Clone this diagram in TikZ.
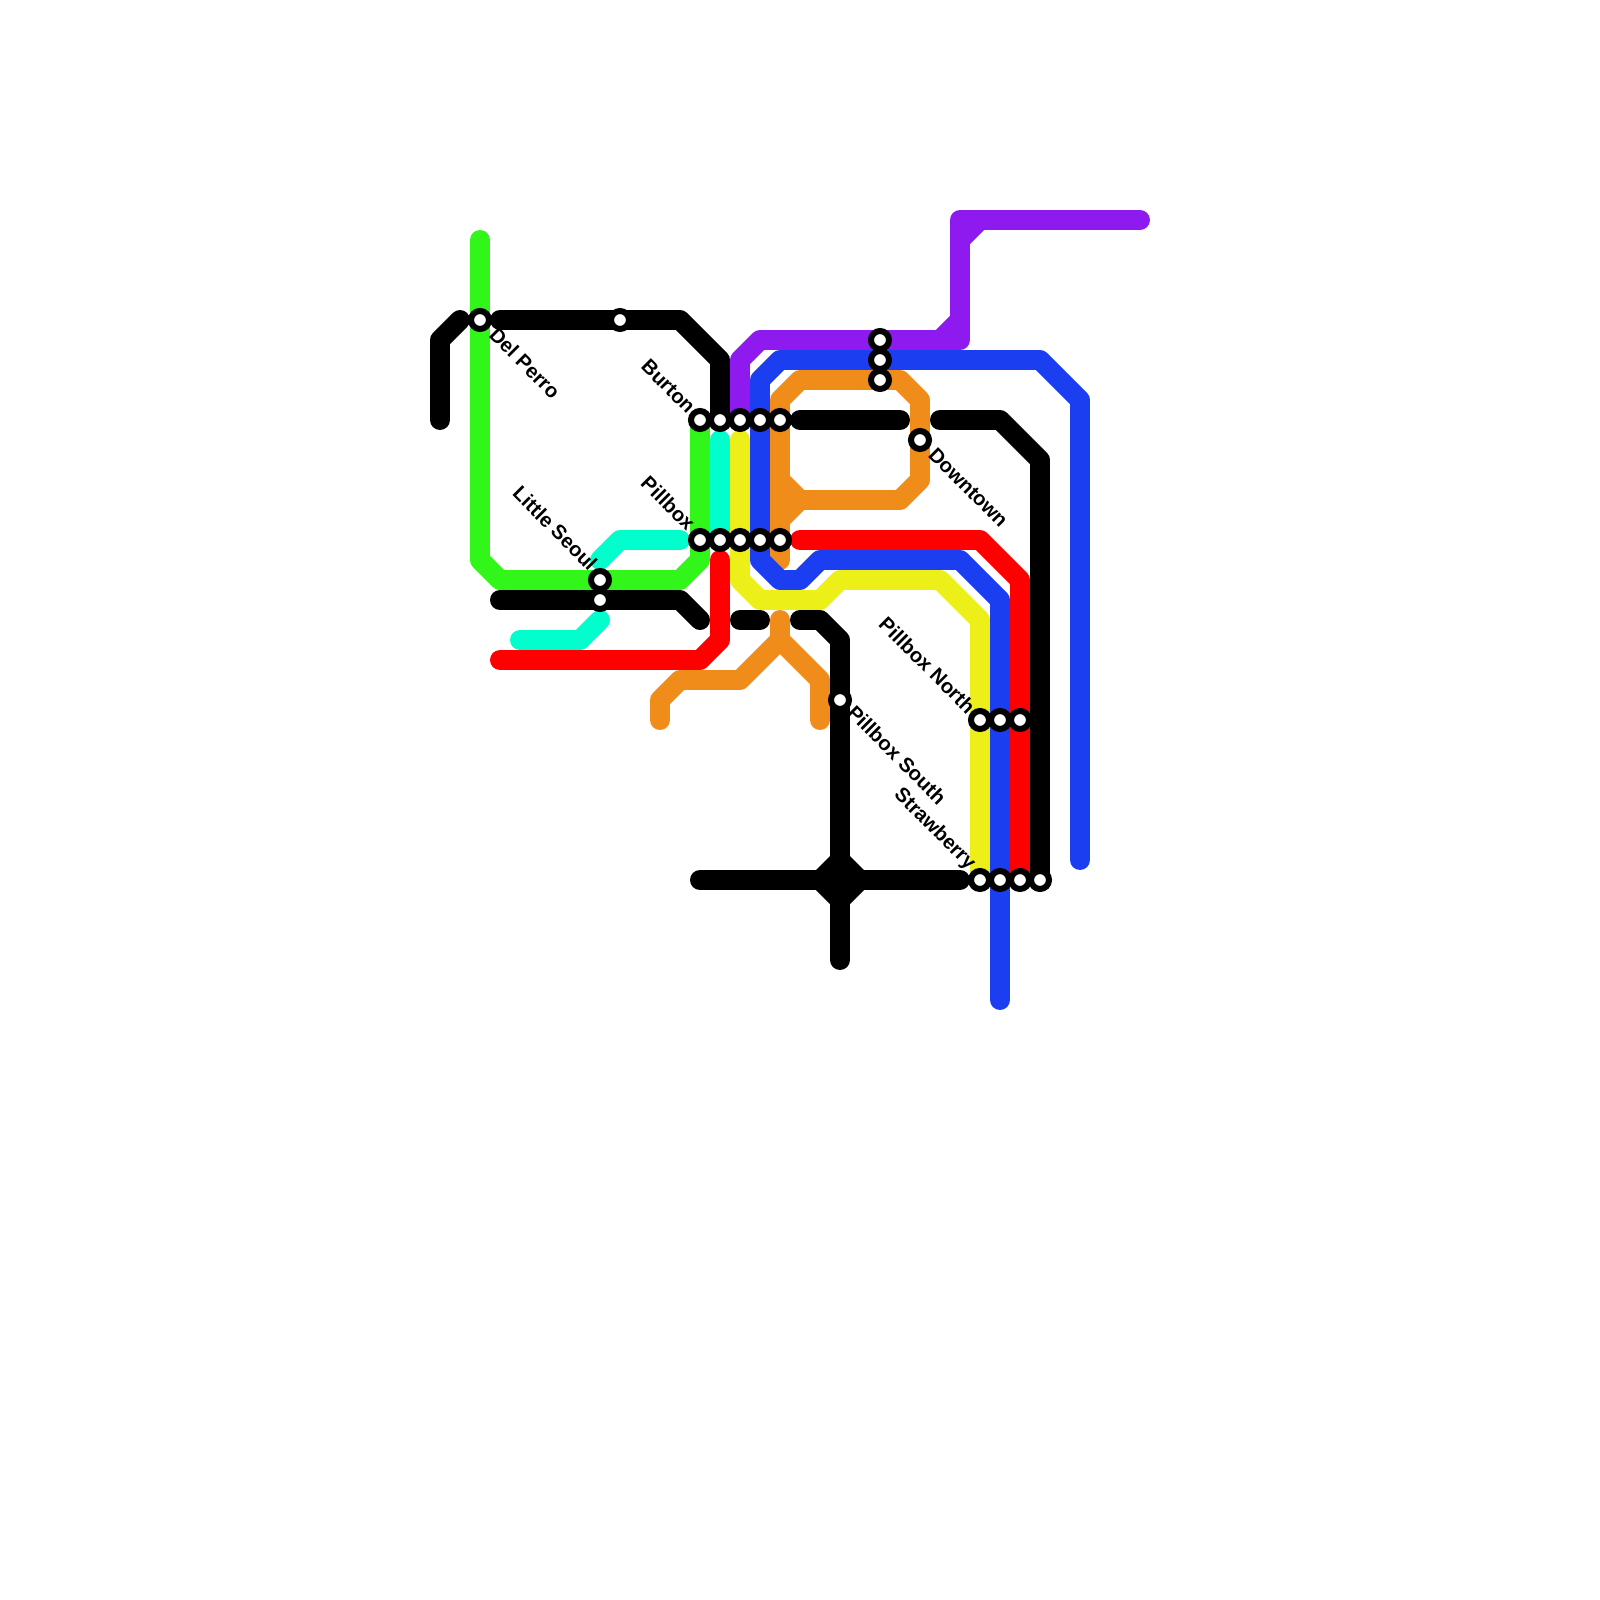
\documentclass[tikz,border=0pt]{standalone}
\usepackage{fontspec}
\setmainfont{Liberation Sans}
\definecolor{lgreen}{HTML}{32F51A}
\definecolor{lcyan}{HTML}{00FFCC}
\definecolor{lyellow}{HTML}{ECF018}
\definecolor{lblue}{HTML}{1A3EF0}
\definecolor{lorange}{HTML}{F08C1A}
\definecolor{lpurple}{HTML}{8E1AF0}
\definecolor{lred}{HTML}{FF0000}
\tikzset{
  x=0.025cm,y=-0.025cm,
  metro/.style={line width=14.2pt,line cap=round,line join=round},
  stn/.style={circle,draw=black,fill=white,line width=4.3pt,minimum size=12.8pt,inner sep=0pt},
  lblr/.style={rotate=-45,anchor=west,inner sep=0pt,font=\fontsize{14.4}{16}\selectfont\bfseries,text=black},
  lbll/.style={rotate=-45,anchor=east,inner sep=0pt,font=\fontsize{14.4}{16}\selectfont\bfseries,text=black},
}
\begin{document}
\begin{tikzpicture}
\useasboundingbox (0,0) rectangle (1600,1600);
\fill[white] (0,0) rectangle (1600,1600);
% black lines
\draw[metro,black] (440,420)--(440,340)--(460,320);
\draw[metro,black] (500,320)--(680,320)--(720,360)--(720,420);
\draw[metro,black] (500,600)--(680,600)--(700,620);
\draw[metro,black] (740,620)--(760,620);
\draw[metro,black] (800,620)--(820,620)--(840,640)--(840,960);
\draw[metro,black] (700,880)--(960,880);
\fill[black] (840,846)--(874,880)--(840,914)--(806,880)--cycle;
\draw[metro,black] (800,420)--(900,420);
\draw[metro,black] (940,420)--(1000,420)--(1040,460)--(1040,880);
% green
\draw[metro,lgreen] (480,240)--(480,560)--(500,580)--(680,580)--(700,560)--(700,420);
% cyan
\draw[metro,lcyan] (720,440)--(720,540);
\draw[metro,lcyan] (680,540)--(620,540)--(600,560);
\draw[metro,lcyan] (600,620)--(580,640)--(520,640);
% orange
\draw[metro,lorange] (780,560)--(780,400)--(800,380)--(900,380)--(920,400)--(920,480)--(900,500)--(800,500)--(780,480);
\draw[metro,lorange] (800,500)--(780,520);
\draw[metro,lorange] (660,720)--(660,700)--(680,680)--(740,680)--(780,640)--(780,620);
\draw[metro,lorange] (780,640)--(820,680)--(820,720);
% purple
\draw[metro,lpurple] (740,420)--(740,360)--(760,340)--(960,340)--(960,220)--(1140,220);
\draw[metro,lpurple] (940,340)--(960,320);
\draw[metro,lpurple] (960,240)--(980,220);
% yellow
\draw[metro,lyellow] (740,440)--(740,580)--(760,600)--(820,600)--(840,580)--(940,580)--(980,620)--(980,880);
% red
\draw[metro,lred] (800,540)--(980,540)--(1020,580)--(1020,880);
\draw[metro,lred] (500,660)--(700,660)--(720,640)--(720,560);
% blue
\draw[metro,lblue] (760,540)--(760,380)--(780,360)--(1040,360)--(1080,400)--(1080,860);
\draw[metro,lblue] (760,420)--(760,560)--(780,580)--(800,580)--(820,560)--(960,560)--(1000,600)--(1000,1000);
% stations
\foreach \n/\x/\y in {a/480/320,b/620/320,c/700/420,d/720/420,e/740/420,f/760/420,g/780/420,
  h/700/540,i/720/540,j/740/540,k/760/540,l/780/540,m/600/580,n/600/600,
  o/880/340,p/880/360,q/880/380,r/920/440,s/840/700,
  t/980/720,u/1000/720,v/1020/720,w/980/880,x/1000/880,y/1020/880,z/1040/880}
  \node[stn] (s\n) at (\x,\y) {};
% labels
\node[lblr] (ldel) at (493,331) {Del Perro};
\node[lbll] (lbur) at (692,410) {Burton};
\node[lbll] (lpil) at (692,527) {Pillbox};
\node[lbll] (lsl) at (594,567) {Little Seoul};
\node[lblr] (ldown) at (932,451) {Downtown};
\node[lblr] (lps) at (851,709) {Pillbox South};
\node[lbll] (lpn) at (972,710) {Pillbox North};
\node[lbll] (lstr) at (972,867) {Strawberry};
\end{tikzpicture}
\end{document}
